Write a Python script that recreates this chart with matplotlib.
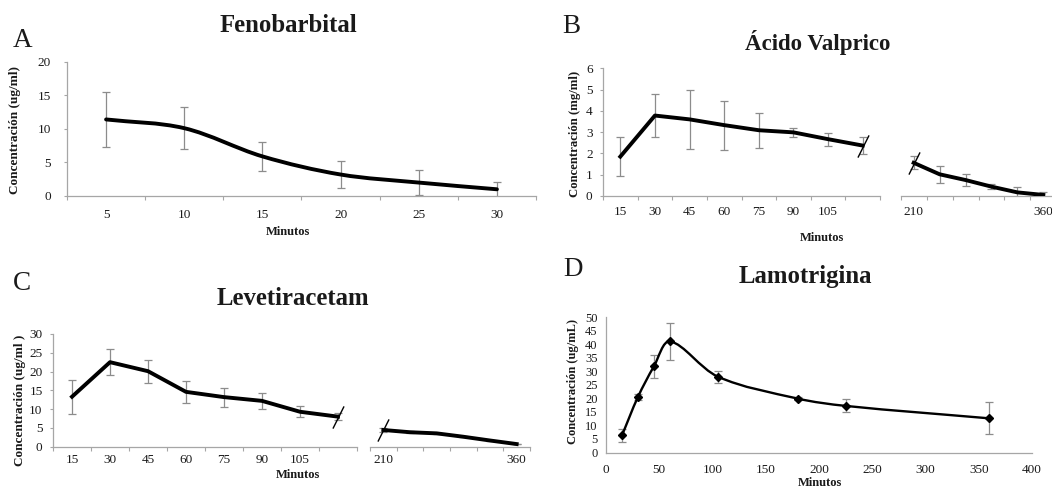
import matplotlib

matplotlib.use("Agg")
import matplotlib.pyplot as plt
from matplotlib.patches import PathPatch
from matplotlib.path import Path
import numpy as np

W, H = 1052, 487

# A - Fenobarbital (ug/ml), 5..30 min
feno_min = ["5", "10", "15", "20", "25", "30"]
feno_conc = [11.4, 10.1, 5.9, 3.2, 2.0, 1.0]
feno_sd = [4.15, 3.15, 2.2, 2.0, 1.85, 1.1]

# B - Acido valproico (mg/ml), early block and late block of the broken axis
vpa_min_early = ["15", "30", "45", "60", "75", "90", "105", ""]
vpa_conc_early = [1.85, 3.78, 3.60, 3.33, 3.09, 2.99, 2.67, 2.37]
vpa_sd_early = [0.9, 1.02, 1.4, 1.15, 0.82, 0.22, 0.31, 0.41]
vpa_min_late = ["210", "", "", "", "", "360"]
vpa_conc_late = [1.56, 1.02, 0.75, 0.44, 0.17, 0.05]
vpa_sd_late = [0.31, 0.4, 0.28, 0.13, 0.27, 0.12]

# C - Levetiracetam (ug/ml)
lev_min_early = ["15", "30", "45", "60", "75", "90", "105", ""]
lev_conc_early = [13.3, 22.5, 20.1, 14.6, 13.2, 12.2, 9.3, 8.0]
lev_sd_early = [4.5, 3.4, 3.1, 2.95, 2.5, 2.05, 1.45, 0.9]
lev_min_late = ["210", "", "", "", "", "360"]
lev_conc_late = [4.45, 3.85, 3.55, 2.65, 1.65, 0.7]
lev_sd_late = [0.5, 0.3, 0.2, 0.2, 0.1, 0.1]

# D - Lamotrigina (ug/mL), real time axis
lam_min = [15, 30, 45, 60, 105, 180, 225, 360]
lam_conc = [6.3, 20.5, 31.8, 41.0, 28.0, 19.9, 17.2, 12.6]
lam_sd = [2.3, 1.0, 4.2, 6.7, 2.2, 0.6, 2.4, 5.9]

plt.rcParams["font.family"] = ["Liberation Serif", "DejaVu Serif"]

AXIS_GRAY = "#a6a6a6"
ERR_GRAY = "#8c8c8c"
TXT = "#1a1a1a"

SLASH = Path([(-0.25, -0.5), (0.25, 0.5)], [Path.MOVETO, Path.LINETO])


def box(left, top, right, bottom):
    """Pixel box -> figure-fraction rect."""
    return [left / W, 1 - bottom / H, (right - left) / W, (bottom - top) / H]


def ftext(x, y, s, **kw):
    fig.text(x / W, 1 - y / H, s, color=TXT, **kw)


def smooth_path(x, y, sx=1.0, sy=1.0):
    """Cubic Bezier through the points; tangents weighted by neighbour distance
    (measured with sx/sy px-per-unit) so uneven spacing doesn't make loops."""
    pts = np.column_stack([x, y]).astype(float)
    ext = np.vstack([pts[0], pts, pts[-1]])
    scale = np.array([sx, sy])
    dist = [np.hypot(*((ext[i + 1] - ext[i]) * scale)) for i in range(len(ext) - 1)]
    verts = [pts[0]]
    codes = [Path.MOVETO]
    for i in range(len(pts) - 1):
        p0, p1, p2, p3 = ext[i], ext[i + 1], ext[i + 2], ext[i + 3]
        d0, d1, d2 = dist[i], dist[i + 1], dist[i + 2]
        f1 = d1 / (d0 + d1) / 1.5 if d0 + d1 > 0 else 0.0
        f2 = d1 / (d1 + d2) / 1.5 if d1 + d2 > 0 else 0.0
        verts += [p1 + (p2 - p0) * f1 / 2, p2 - (p3 - p1) * f2 / 2, p2]
        codes += [Path.CURVE4] * 3
    return Path(verts, codes)


def category_axes(ax, labels, ylim, yticks, ypad, xpad, show_y=True):
    n = len(labels)
    ax.set_xlim(-0.5, n - 0.5)
    ax.set_ylim(*ylim)
    ax.set_xticks(np.arange(n), labels)
    ax.set_xticks(np.arange(n + 1) - 0.5, minor=True)
    ax.tick_params(axis="x", which="major", length=0, pad=xpad, labelsize=9.5, labelcolor=TXT)
    ax.tick_params(axis="x", which="minor", length=3, width=0.8, color=AXIS_GRAY)
    for side in ("top", "right"):
        ax.spines[side].set_visible(False)
    ax.spines["bottom"].set_color(AXIS_GRAY)
    ax.spines["bottom"].set_linewidth(0.9)
    if show_y:
        ax.set_yticks(yticks)
        ax.tick_params(axis="y", length=2.5, width=0.8, color=AXIS_GRAY, pad=ypad,
                       labelsize=9.5, labelcolor=TXT)
        ax.spines["left"].set_color(AXIS_GRAY)
        ax.spines["left"].set_linewidth(0.9)
    else:
        ax.spines["left"].set_visible(False)
        ax.set_yticks([])
    ax.patch.set_alpha(0)


def draw_series(ax, y, sd, smooth=False, px=(1.0, 1.0)):
    x = np.arange(len(y))
    ax.errorbar(x, y, yerr=sd, fmt="none", ecolor=ERR_GRAY, elinewidth=0.9,
                capsize=2.8, capthick=0.9, zorder=2)
    if smooth:
        ax.add_patch(PathPatch(smooth_path(x, y, *px), fill=False, lw=2.8, ec="black",
                               capstyle="round", joinstyle="round", zorder=3))
    else:
        ax.plot(x, y, color="black", lw=2.8, solid_joinstyle="round", zorder=3)


def break_mark(ax, x, y):
    ax.plot([x], [y], ls="none", marker=SLASH, ms=16, mfc="none", mec="black",
            mew=1.0, zorder=4, clip_on=False)


fig = plt.figure(figsize=(W / 100, H / 100), dpi=100)

ylab_kw = dict(rotation=90, ha="center", va="center", fontweight="bold")
xlab_kw = dict(ha="center", va="baseline", fontsize=9, fontweight="bold")
title_kw = dict(ha="center", va="baseline", fontweight="bold")
letter_kw = dict(ha="left", va="baseline", fontsize=19.5)

# A
ax_a = fig.add_axes(box(67, 61.7, 536, 196))
category_axes(ax_a, feno_min, (0, 20), range(0, 21, 5), ypad=9, xpad=9)
draw_series(ax_a, feno_conc, feno_sd, smooth=True, px=(78.2, 6.7))
ftext(13, 47, "A", **letter_kw)
ftext(288, 32, "Fenobarbital", fontsize=17.8, **title_kw)
ftext(15, 130, "Concentración (ug/ml)", fontsize=9.5, **ylab_kw)
ftext(288, 235, "Minutos", **xlab_kw)

# B
ax_b1 = fig.add_axes(box(603, 68.3, 880, 196))
category_axes(ax_b1, vpa_min_early, (0, 6), range(0, 7), ypad=5, xpad=7)
draw_series(ax_b1, vpa_conc_early, vpa_sd_early)
break_mark(ax_b1, len(vpa_conc_early) - 1, vpa_conc_early[-1])
ax_b2 = fig.add_axes(box(900.7, 68.3, 1056.3, 196))
category_axes(ax_b2, vpa_min_late, (0, 6), [], ypad=5, xpad=7, show_y=False)
draw_series(ax_b2, vpa_conc_late, vpa_sd_late)
break_mark(ax_b2, 0, vpa_conc_late[0])
ftext(562, 33, "B", **letter_kw)
ftext(818, 50, "Ácido Valprico", fontsize=16.5, **title_kw)
ftext(575, 134, "Concentración (mg/ml)", fontsize=9.2, **ylab_kw)
ftext(822, 241, "Minutos", **xlab_kw)

# C
ax_c1 = fig.add_axes(box(53, 334, 357, 446.7))
category_axes(ax_c1, lev_min_early, (0, 30), range(0, 31, 5), ypad=5, xpad=5)
draw_series(ax_c1, lev_conc_early, lev_sd_early)
break_mark(ax_c1, len(lev_conc_early) - 1, lev_conc_early[-1])
ax_c2 = fig.add_axes(box(370, 334, 530, 446.7))
category_axes(ax_c2, lev_min_late, (0, 30), [], ypad=5, xpad=5, show_y=False)
draw_series(ax_c2, lev_conc_late, lev_sd_late)
break_mark(ax_c2, 0, lev_conc_late[0])
ftext(13, 290, "C", **letter_kw)
ftext(293, 305, "Levetiracetam", fontsize=17.8, **title_kw)
ftext(20, 400, "Concentración (ug/ml )", fontsize=9.5, **ylab_kw)
ftext(298, 478, "Minutos", **xlab_kw)

# D
ax_d = fig.add_axes(box(606, 317, 1032, 452.5))
ax_d.set_xlim(0, 400)
ax_d.set_ylim(0, 50)
ax_d.set_xticks(range(0, 401, 50))
ax_d.set_yticks(range(0, 51, 5))
ax_d.tick_params(axis="x", length=0, pad=8, labelsize=9.5, labelcolor=TXT)
ax_d.tick_params(axis="y", length=0, pad=6, labelsize=9, labelcolor=TXT)
for side in ("top", "right"):
    ax_d.spines[side].set_visible(False)
for side in ("left", "bottom"):
    ax_d.spines[side].set_color(AXIS_GRAY)
    ax_d.spines[side].set_linewidth(0.9)
ax_d.patch.set_alpha(0)
ax_d.errorbar(lam_min, lam_conc, yerr=lam_sd, fmt="none", ecolor=ERR_GRAY, elinewidth=0.9,
              capsize=2.8, capthick=0.9, zorder=2)
ax_d.add_patch(PathPatch(smooth_path(lam_min, lam_conc, 1.065, 2.71), fill=False, lw=1.7,
                         ec="black", zorder=3))
ax_d.plot(lam_min, lam_conc, ls="none", marker="D", ms=4.5, color="black", zorder=4)
ftext(563, 276, "D", **letter_kw)
ftext(805, 283, "Lamotrigina", fontsize=17.8, **title_kw)
ftext(573, 382, "Concentración (ug/mL)", fontsize=9, **ylab_kw)
ftext(820, 486, "Minutos", **xlab_kw)

fig.savefig("out.png", dpi=100)
